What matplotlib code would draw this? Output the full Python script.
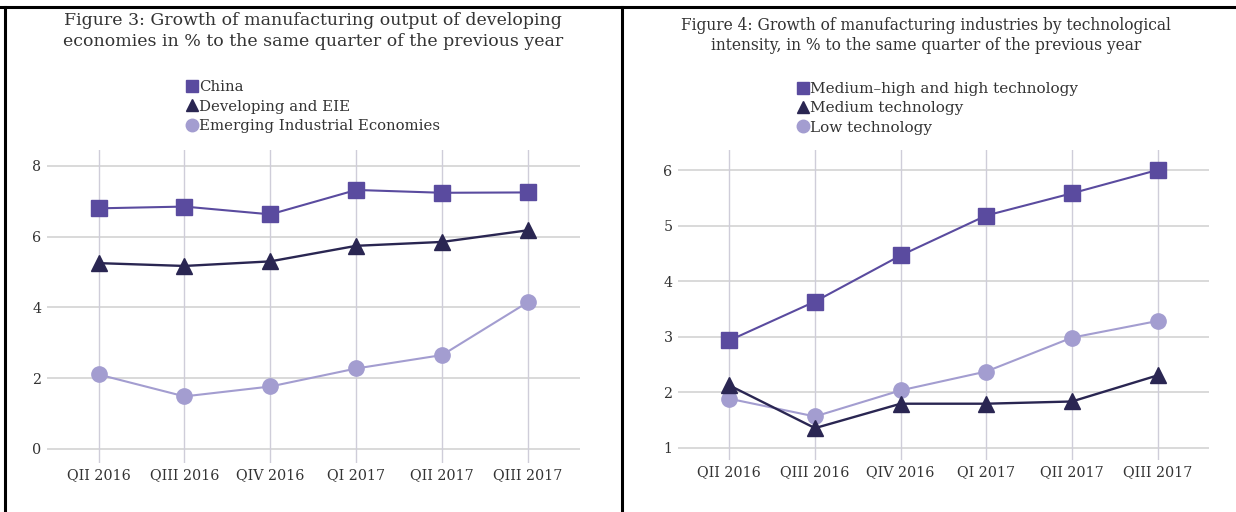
import matplotlib
matplotlib.use('Agg')
import matplotlib.pyplot as plt
from matplotlib.lines import Line2D

quarters = ['QII 2016', 'QIII 2016', 'QIV 2016', 'QI 2017', 'QII 2017', 'QIII 2017']

# Figure 3
china = [6.80, 6.85, 6.63, 7.32, 7.24, 7.25]
developing_eie = [5.25, 5.17, 5.30, 5.74, 5.85, 6.18]
emerging_ie = [2.10, 1.48, 1.76, 2.27, 2.65, 4.15]

# Figure 4
med_high_tech = [2.93, 3.63, 4.46, 5.18, 5.58, 6.00]
med_tech = [2.12, 1.35, 1.79, 1.79, 1.83, 2.30]
low_tech = [1.88, 1.56, 2.03, 2.37, 2.98, 3.28]

c_sq = '#5a4b9f'
c_tri = '#2a2652'
c_circ = '#a39dd0'
txt = '#333333'

plt.rcParams['font.family'] = ['DejaVu Serif']

fig = plt.figure(figsize=(12.36, 5.12), dpi=100)


def style_axes(ax, yticks, ylim):
    ax.set_xlim(-0.6, 5.6)
    ax.set_ylim(*ylim)
    ax.set_yticks(yticks)
    ax.set_xticks(range(len(quarters)))
    ax.set_xticklabels(quarters)
    for s in ax.spines.values():
        s.set_visible(False)
    ax.tick_params(length=0, labelsize=10.3, colors=txt, pad=4)
    ax.grid(False)
    for y in yticks:
        ax.axhline(y, color='#d9d9d9', lw=1.4, zorder=0)
    for x in range(len(quarters)):
        ax.axvline(x, color='#cfcdd9', lw=1.0, zorder=0)


def add_legend(ax, labels, anchor, size):
    handles = [Line2D([], [], color=c_sq, marker='s', ls='none', ms=9),
               Line2D([], [], color=c_tri, marker='^', ls='none', ms=9),
               Line2D([], [], color=c_circ, marker='o', ls='none', ms=9)]
    ax.legend(handles, labels, loc='upper left', bbox_to_anchor=anchor,
              bbox_transform=fig.transFigure, frameon=False, handlelength=0.6,
              handletextpad=0.15, labelspacing=0.35, borderaxespad=0, borderpad=0,
              fontsize=size, labelcolor=txt)


x = range(len(quarters))

# left chart
ax1 = fig.add_axes([0.038, 0.096, 0.431, 0.611])
ax1.plot(x, china, color=c_sq, lw=1.5, marker='s', ms=11)
ax1.plot(x, developing_eie, color=c_tri, lw=1.7, marker='^', ms=11)
ax1.plot(x, emerging_ie, color=c_circ, lw=1.5, marker='o', ms=11)
style_axes(ax1, [0, 2, 4, 6, 8], (-0.4, 8.45))

fig.text(0.253, 0.976, 'Figure 3: Growth of manufacturing output of developing\n'
         'economies in % to the same quarter of the previous year',
         ha='center', va='top', fontsize=12.5, color=txt, linespacing=1.3)
add_legend(ax1, ['China', 'Developing and EIE', 'Emerging Industrial Economies'],
           (0.152, 0.843), 10.7)

# right chart
ax2 = fig.add_axes([0.5485, 0.102, 0.4296, 0.605])
ax2.plot(x, med_high_tech, color=c_sq, lw=1.5, marker='s', ms=11)
ax2.plot(x, low_tech, color=c_circ, lw=1.5, marker='o', ms=11)
ax2.plot(x, med_tech, color=c_tri, lw=1.7, marker='^', ms=11)
style_axes(ax2, [1, 2, 3, 4, 5, 6], (0.78, 6.36))

fig.text(0.749, 0.966, 'Figure 4: Growth of manufacturing industries by technological\n'
         'intensity, in % to the same quarter of the previous year',
         ha='center', va='top', fontsize=11.2, color=txt, linespacing=1.2)
add_legend(ax2, ['Medium\u2013high and high technology', 'Medium technology', 'Low technology'],
           (0.646, 0.840), 11)

# panel borders
fig.add_artist(Line2D([0, 1], [1 - 7 / 512, 1 - 7 / 512], color='black', lw=2.2, transform=fig.transFigure))
fig.add_artist(Line2D([5 / 1236, 5 / 1236], [0, 1 - 7 / 512], color='black', lw=2.2, transform=fig.transFigure))
fig.add_artist(Line2D([622 / 1236, 622 / 1236], [0, 1 - 7 / 512], color='black', lw=2.2, transform=fig.transFigure))

fig.savefig('out.png', dpi=100)
